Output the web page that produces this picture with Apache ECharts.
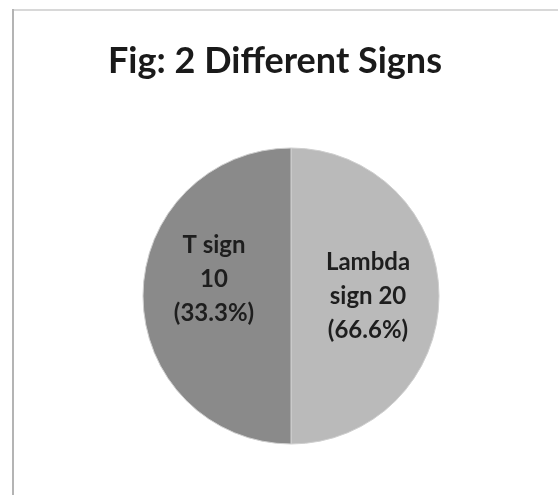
<!DOCTYPE html>
<html>
<head>
<meta charset="utf-8">
<script src="https://cdn.jsdelivr.net/npm/echarts@6/dist/echarts.min.js"></script>
<style>
html,body{margin:0;padding:0;background:#fff;}
#main{width:558px;height:495px;}
</style>
</head>
<body>
<div id="main"></div>
<script>
// Data
const titleText = 'Fig: 2 Different Signs';
const categories = ['Lambda sign', 'T sign'];
const counts = [20, 10];
const percentLabels = ['66.6%', '33.3%'];
// slice sizes as drawn in the reference (the two slices are drawn as equal halves)
const sliceShares = [50, 50];
const sliceColors = ['#bababa', '#8a8a8a'];

const labelTexts = ['Lambda\nsign ' + counts[0] + '\n(' + percentLabels[0] + ')',
                    categories[1] + '\n' + counts[1] + '\n(' + percentLabels[1] + ')\n'];

const chart = echarts.init(document.getElementById('main'));
chart.setOption({
  animation: false,
  backgroundColor: '#fff',
  title: {
    text: titleText,
    left: 270,
    top: 38,
    textAlign: 'center',
    textStyle: { fontFamily: 'Lato', fontWeight: 'bold', fontSize: 36, color: '#1a1a1a' }
  },
  graphic: [
    { type: 'line', shape: { x1: 12, y1: 10, x2: 558, y2: 10 }, style: { stroke: '#d8d8d8', lineWidth: 2 }, silent: true },
    { type: 'line', shape: { x1: 13, y1: 9, x2: 13, y2: 495 }, style: { stroke: '#b4b4b4', lineWidth: 2 }, silent: true }
  ],
  series: [{
    type: 'pie',
    center: [291, 296],
    radius: [0, 148],
    startAngle: 90,
    clockwise: true,
    itemStyle: { borderColor: '#cfcfcf', borderWidth: 1 },
    label: {
      show: true,
      position: 'inside',
      fontFamily: 'Lato',
      fontWeight: 'bold',
      fontSize: 24,
      lineHeight: 34,
      color: '#1e1e1e'
    },
    labelLine: { show: false },
    data: categories.map((c, i) => ({
      name: c,
      value: sliceShares[i],
      itemStyle: { color: sliceColors[i] },
      label: { formatter: labelTexts[i] }
    }))
  }]
});
</script>
</body>
</html>
